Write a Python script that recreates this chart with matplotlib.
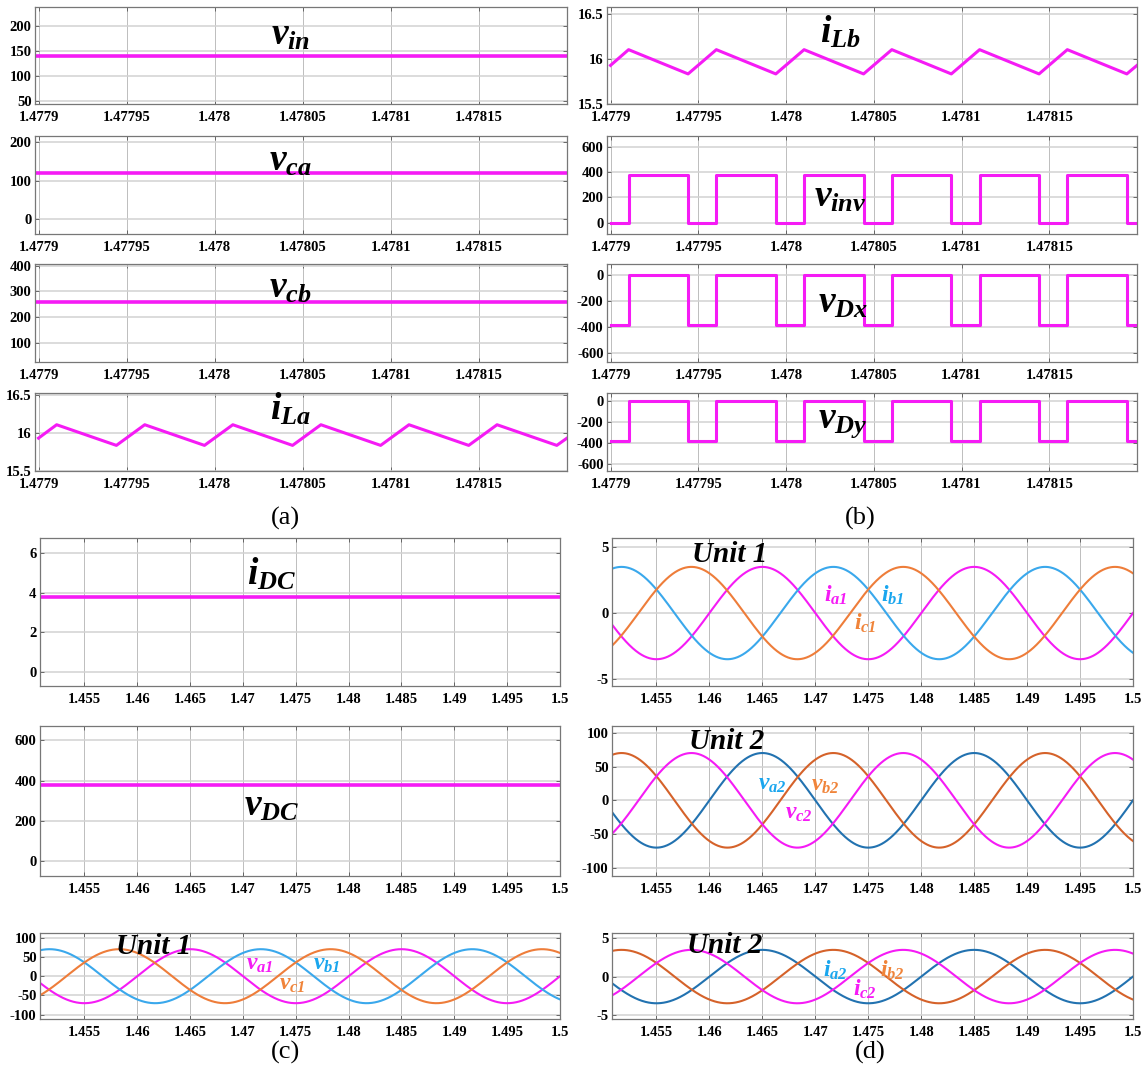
import numpy as np
import matplotlib
matplotlib.use("Agg")
import matplotlib.pyplot as plt
from matplotlib.ticker import FormatStrFormatter

plt.rcParams['font.family'] = 'Liberation Serif'
plt.rcParams['mathtext.fontset'] = 'custom'
plt.rcParams['mathtext.it'] = 'Liberation Serif:bold:italic'
plt.rcParams['mathtext.rm'] = 'Liberation Serif:bold:italic'
plt.rcParams['mathtext.bf'] = 'Liberation Serif:bold:italic'

# ---------------- data ----------------
# (a)/(b): switching-period zoom, time in s
t_sw = [1.4779, 1.4779103, 1.4779442, 1.4779603, 1.4779942, 1.4780103, 1.4780442,
        1.4780603, 1.4780942, 1.4781103, 1.4781442, 1.4781603, 1.4781942, 1.4782]
v_inv = [0, 380, 0, 380, 0, 380, 0, 380, 0, 380, 0, 380, 0, 0]
v_dx = [-380, 0, -380, 0, -380, 0, -380, 0, -380, 0, -380, 0, -380, -380]
v_dy = [-380, 0, -380, 0, -380, 0, -380, 0, -380, 0, -380, 0, -380, -380]
i_la = [15.93, 16.105, 15.835, 16.105, 15.835, 16.105, 15.835,
        16.105, 15.835, 16.105, 15.835, 16.105, 15.835, 15.93]
i_lb = [15.93, 16.105, 15.835, 16.105, 15.835, 16.105, 15.835,
        16.105, 15.835, 16.105, 15.835, 16.105, 15.835, 15.93]
v_in = 140
v_ca = 120
v_cb = 260

# (c)/(d): line-frequency zoom
i_dc = 3.8
v_dc = 380
t_grid = np.linspace(1.4508, 1.5, 1200)
f_line = 50.0
# time of a positive peak for each phase, and amplitudes
peaks_a1 = 1.465      # v_a1 / i_a1 (magenta)
peaks_b1 = 1.4517     # v_b1 / i_b1 (light blue)
peaks_c1 = 1.4583     # v_c1 / i_c1 (orange)
peaks_a2 = 1.465      # v_a2 / i_a2 (dark blue)
peaks_b2 = 1.4517     # v_b2 / i_b2 (dark orange)
peaks_c2 = 1.4583     # v_c2 / i_c2 (magenta)
amp_v = 70
amp_i = 3.5

MAG = '#F51BF5'
LBLUE = '#3AA8EC'
ORANGE = '#EE7D3A'
DBLUE = '#2272B0'
DORANGE = '#D5622A'
LBL_BLUE = '#1AA6EE'
LBL_ORANGE = '#F0843A'

W, H = 1141, 1065
fig = plt.figure(figsize=(W / 100, H / 100), dpi=100)


def box(x0, y0, x1, y1):
    return fig.add_axes([x0 / W, 1 - y1 / H, (x1 - x0) / W, (y1 - y0) / H])


def style(ax, xlim, xticks, ylim, yticks):
    ax.set_xlim(*xlim)
    ax.set_ylim(*ylim)
    ax.set_xticks(xticks)
    ax.set_yticks(yticks)
    ax.xaxis.set_major_formatter(FormatStrFormatter('%g'))
    ax.yaxis.set_major_formatter(FormatStrFormatter('%g'))
    ax.grid(True, axis='x', color='#BDBDBD', lw=0.7)
    ax.grid(True, axis='y', color='#D2D2D2', lw=1.1)
    ax.set_axisbelow(True)
    ax.tick_params(direction='in', length=3, width=0.6, labelsize=10.5,
                   top=True, right=True, color='#555555')
    ax.tick_params(axis='x', pad=5)
    ax.tick_params(axis='y', pad=2.5)
    for lab in ax.get_xticklabels() + ax.get_yticklabels():
        lab.set_fontweight('bold')
    for s in ax.spines.values():
        s.set_color('#777777')
        s.set_linewidth(0.9)


def big_label(ax, x, y, s):
    ax.text(x, y, s, transform=ax.transAxes, fontsize=27, ha='center', va='center')


xa = (1.477898, 1.4782)
xa_ticks = [1.4779, 1.47795, 1.478, 1.47805, 1.4781, 1.47815]
xc = (1.4508, 1.5)
xc_ticks = [1.455, 1.46, 1.465, 1.47, 1.475, 1.48, 1.485, 1.49, 1.495, 1.5]

rows_ab = [(7, 104), (136, 234), (264, 362), (393, 471)]
rows_cd = [(538, 686), (726, 876), (933, 1019)]
col_a = (35, 567)
col_b = (607, 1137)
col_c = (40, 560)
col_d = (612, 1133)

# ---------------- (a) ----------------
ax = box(col_a[0], rows_ab[0][0], col_a[1], rows_ab[0][1])
ax.plot(xa, [v_in, v_in], color=MAG, lw=2.6)
style(ax, xa, xa_ticks, (44.6, 239), [50, 100, 150, 200])
big_label(ax, 0.48, 0.71, r'$v_{in}$')

ax = box(col_a[0], rows_ab[1][0], col_a[1], rows_ab[1][1])
ax.plot(xa, [v_ca, v_ca], color=MAG, lw=2.6)
style(ax, xa, xa_ticks, (-38, 215), [0, 100, 200])
big_label(ax, 0.48, 0.74, r'$v_{ca}$')

ax = box(col_a[0], rows_ab[2][0], col_a[1], rows_ab[2][1])
ax.plot(xa, [v_cb, v_cb], color=MAG, lw=2.6)
style(ax, xa, xa_ticks, (25, 407), [100, 200, 300, 400])
big_label(ax, 0.48, 0.75, r'$v_{cb}$')

ax = box(col_a[0], rows_ab[3][0], col_a[1], rows_ab[3][1])
ax.plot(t_sw, i_la, color=MAG, lw=2.2)
style(ax, xa, xa_ticks, (15.5, 16.52), [15.5, 16, 16.5])
big_label(ax, 0.48, 0.79, r'$i_{La}$')

fig.text(285 / W, 1 - 518 / H, '(a)', fontsize=19, ha='center', va='center')

# ---------------- (b) ----------------
ax = box(col_b[0], rows_ab[0][0], col_b[1], rows_ab[0][1])
ax.plot(t_sw, i_lb, color=MAG, lw=2.2)
style(ax, xa, xa_ticks, (15.5, 16.58), [15.5, 16, 16.5])
big_label(ax, 0.44, 0.74, r'$i_{Lb}$')

ax = box(col_b[0], rows_ab[1][0], col_b[1], rows_ab[1][1])
ax.plot(t_sw, v_inv, color=MAG, lw=2.2, drawstyle='steps-post')
style(ax, xa, xa_ticks, (-89, 684), [0, 200, 400, 600])
big_label(ax, 0.44, 0.37, r'$v_{inv}$')

ax = box(col_b[0], rows_ab[2][0], col_b[1], rows_ab[2][1])
ax.plot(t_sw, v_dx, color=MAG, lw=2.2, drawstyle='steps-post')
style(ax, xa, xa_ticks, (-670, 88), [-600, -400, -200, 0])
big_label(ax, 0.445, 0.6, r'$v_{Dx}$')

ax = box(col_b[0], rows_ab[3][0], col_b[1], rows_ab[3][1])
ax.plot(t_sw, v_dy, color=MAG, lw=2.2, drawstyle='steps-post')
style(ax, xa, xa_ticks, (-671, 81), [-600, -400, -200, 0])
big_label(ax, 0.445, 0.62, r'$v_{Dy}$')

fig.text(860 / W, 1 - 518 / H, '(b)', fontsize=19, ha='center', va='center')


def phase(t_peak, amp):
    return amp * np.cos(2 * np.pi * f_line * (t_grid - t_peak))


def unit_label(ax, x, y, s):
    ax.text(x, y, s, fontsize=21, fontweight='bold', fontstyle='italic',
            ha='center', va='center')


def sig_label(ax, x, y, s, c, size=17):
    ax.text(x, y, s, fontsize=size, color=c, ha='center', va='center')


# ---------------- (c) ----------------
ax = box(col_c[0], rows_cd[0][0], col_c[1], rows_cd[0][1])
ax.plot(xc, [i_dc, i_dc], color=MAG, lw=2.6)
style(ax, xc, xc_ticks, (-0.7, 6.75), [0, 2, 4, 6])
sig_label(ax, 1.4727, 4.9, r'$i_{DC}$', 'black', 27)

ax = box(col_c[0], rows_cd[1][0], col_c[1], rows_cd[1][1])
ax.plot(xc, [v_dc, v_dc], color=MAG, lw=2.6)
style(ax, xc, xc_ticks, (-73, 670), [0, 200, 400, 600])
sig_label(ax, 1.4727, 270, r'$v_{DC}$', 'black', 27)

ax = box(col_c[0], rows_cd[2][0], col_c[1], rows_cd[2][1])
ax.plot(t_grid, phase(peaks_a1, amp_v), color=MAG, lw=1.5)
ax.plot(t_grid, phase(peaks_b1, amp_v), color=LBLUE, lw=1.5)
ax.plot(t_grid, phase(peaks_c1, amp_v), color=ORANGE, lw=1.5)
style(ax, xc, xc_ticks, (-111, 112), [-100, -50, 0, 50, 100])
unit_label(ax, 1.4616, 76, 'Unit 1')
sig_label(ax, 1.4716, 30, r'$v_{a1}$', MAG)
sig_label(ax, 1.4779, 30, r'$v_{b1}$', LBL_BLUE)
sig_label(ax, 1.4747, -22, r'$v_{c1}$', LBL_ORANGE)

fig.text(285 / W, 1 - 1052 / H, '(c)', fontsize=19, ha='center', va='center')

# ---------------- (d) ----------------
ax = box(col_d[0], rows_cd[0][0], col_d[1], rows_cd[0][1])
ax.plot(t_grid, phase(peaks_a1, amp_i), color=MAG, lw=1.5)
ax.plot(t_grid, phase(peaks_b1, amp_i), color=LBLUE, lw=1.5)
ax.plot(t_grid, phase(peaks_c1, amp_i), color=ORANGE, lw=1.5)
style(ax, xc, xc_ticks, (-5.53, 5.69), [-5, 0, 5])
unit_label(ax, 1.4619, 4.45, 'Unit 1')
sig_label(ax, 1.4719, 1.35, r'$i_{a1}$', MAG)
sig_label(ax, 1.4773, 1.35, r'$i_{b1}$', LBL_BLUE)
sig_label(ax, 1.4747, -0.8, r'$i_{c1}$', LBL_ORANGE)

ax = box(col_d[0], rows_cd[1][0], col_d[1], rows_cd[1][1])
ax.plot(t_grid, phase(peaks_a2, amp_v), color=DBLUE, lw=1.5)
ax.plot(t_grid, phase(peaks_b2, amp_v), color=DORANGE, lw=1.5)
ax.plot(t_grid, phase(peaks_c2, amp_v), color=MAG, lw=1.5)
style(ax, xc, xc_ticks, (-112, 110), [-100, -50, 0, 50, 100])
unit_label(ax, 1.4616, 87, 'Unit 2')
sig_label(ax, 1.4659, 24, r'$v_{a2}$', LBL_BLUE)
sig_label(ax, 1.4709, 22, r'$v_{b2}$', LBL_ORANGE)
sig_label(ax, 1.4684, -19, r'$v_{c2}$', MAG)

ax = box(col_d[0], rows_cd[2][0], col_d[1], rows_cd[2][1])
ax.plot(t_grid, phase(peaks_a2, amp_i), color=DBLUE, lw=1.5)
ax.plot(t_grid, phase(peaks_b2, amp_i), color=DORANGE, lw=1.5)
ax.plot(t_grid, phase(peaks_c2, amp_i), color=MAG, lw=1.5)
style(ax, xc, xc_ticks, (-5.56, 5.71), [-5, 0, 5])
unit_label(ax, 1.4614, 4.1, 'Unit 2')
sig_label(ax, 1.4719, 0.8, r'$i_{a2}$', LBL_BLUE)
sig_label(ax, 1.4773, 0.8, r'$i_{b2}$', LBL_ORANGE)
sig_label(ax, 1.4747, -1.7, r'$i_{c2}$', MAG)

fig.text(870 / W, 1 - 1052 / H, '(d)', fontsize=19, ha='center', va='center')

fig.savefig('out.png', dpi=100)
